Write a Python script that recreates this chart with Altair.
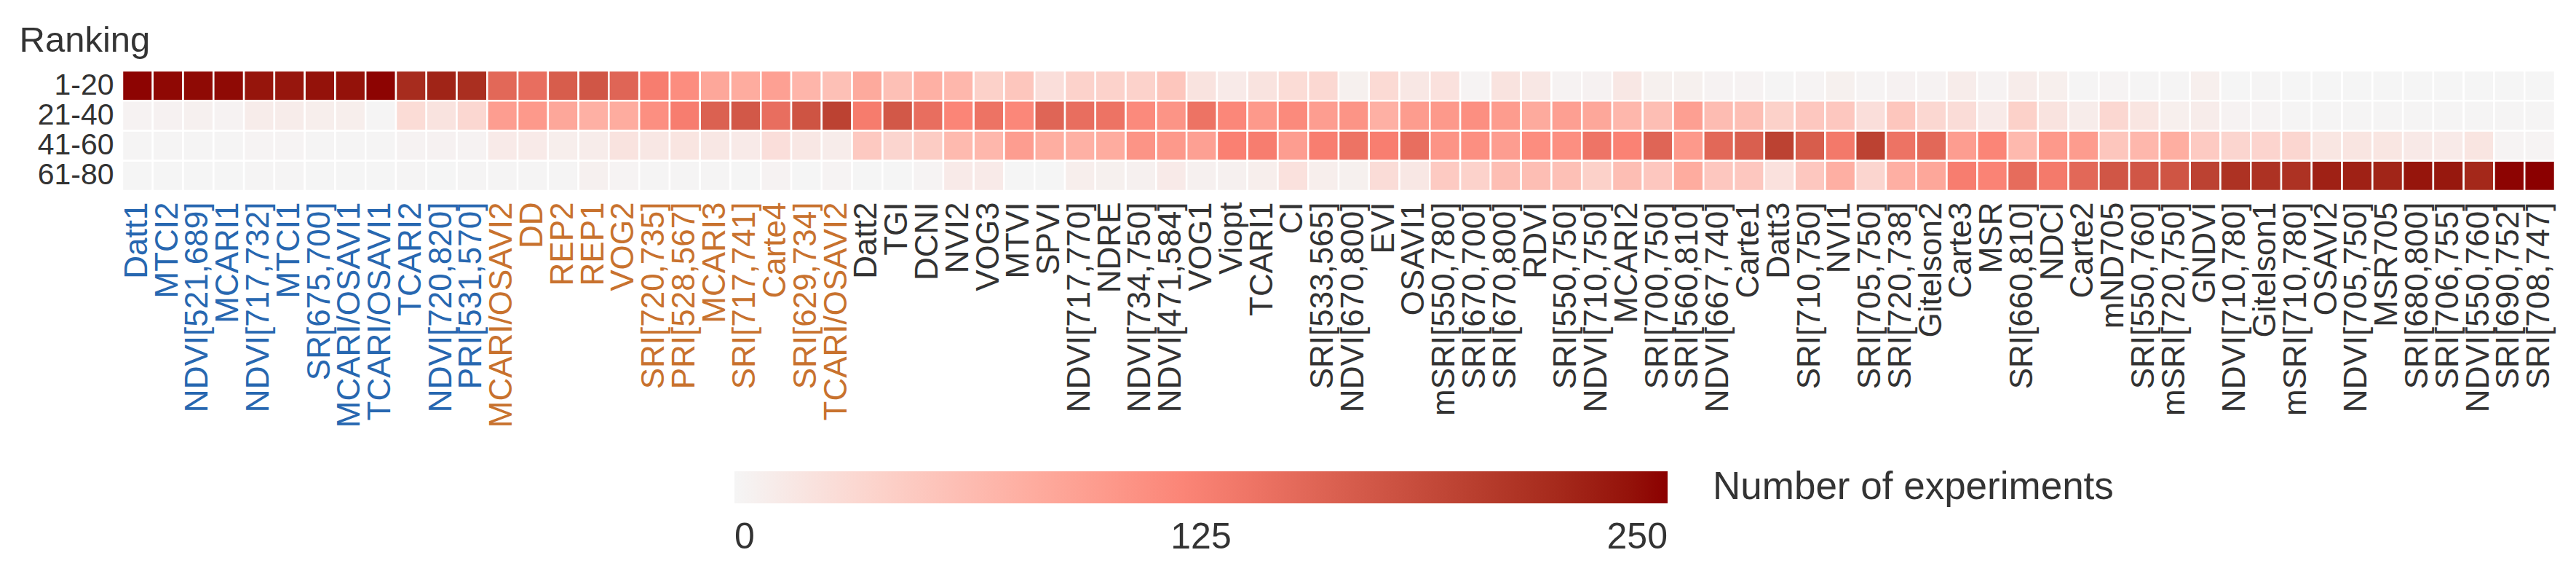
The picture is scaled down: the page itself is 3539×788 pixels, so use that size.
import json
import altair as alt
import pandas as pd

indices = [
    "Datt1", "MTCI2", "NDVI[521,689]", "MCARI1", "NDVI[717,732]", "MTCI1", "SR[675,700]",
    "MCARI/OSAVI1", "TCARI/OSAVI1", "TCARI2", "NDVI[720,820]", "PRI[531,570]",
    "MCARI/OSAVI2", "DD", "REP2", "REP1", "VOG2", "SRI[720,735]", "PRI[528,567]", "MCARI3",
    "SRI[717,741]", "Carte4", "SRI[629,734]", "TCARI/OSAVI2",
    "Datt2", "TGI", "DCNI", "NVI2", "VOG3", "MTVI", "SPVI", "NDVI[717,770]", "NDRE",
    "NDVI[734,750]", "NDVI[471,584]", "VOG1", "Viopt", "TCARI1", "CI", "SRI[533,565]",
    "NDVI[670,800]", "EVI", "OSAVI1", "mSRI[550,780]", "SRI[670,700]", "SRI[670,800]", "RDVI",
    "SRI[550,750]", "NDVI[710,750]", "MCARI2", "SRI[700,750]", "SRI[560,810]", "NDVI[667,740]",
    "Carte1", "Datt3", "SRI[710,750]", "NVI1", "SRI[705,750]", "SRI[720,738]", "Gitelson2",
    "Carte3", "MSR", "SRI[660,810]", "NDCI", "Carte2", "mND705", "SRI[550,760]", "mSRI[720,750]",
    "GNDVI", "NDVI[710,780]", "Gitelson1", "mSRI[710,780]", "OSAVI2", "NDVI[705,750]", "MSR705",
    "SRI[680,800]", "SRI[706,755]", "NDVI[550,760]", "SRI[690,752]", "SRI[708,747]",
]
blue_group = indices[0:12]
orange_group = indices[12:24]

ranks = ["1-20", "21-40", "41-60", "61-80"]

r1 = [248, 246, 245, 245, 238, 237, 240, 240, 248, 218, 226, 215,
      152, 145, 165, 172, 155, 128, 112, 85,
      80, 92, 70, 58, 82, 58, 75, 68, 40, 52,
      25, 38, 38, 38, 52, 20, 12, 20, 28, 32,
      6, 30, 15, 22, 2, 20, 15, 3, 4, 15,
      6, 6, 3, 3, 1, 2, 6, 2, 4, 3,
      10, 3, 10, 7, 1, 2, 1, 1, 7, 0,
      1, 0, 0, 0, 0, 0, 0, 0, 0, 0]
r2 = [3, 4, 5, 3, 10, 10, 8, 8, 1, 28, 20, 33,
      95, 100, 85, 75, 80, 110, 128, 160,
      170, 145, 175, 195, 130, 170, 145, 120, 140, 118,
      155, 145, 140, 115, 105, 140, 118, 100, 115, 95,
      105, 75, 97, 100, 110, 97, 82, 93, 85, 68,
      60, 93, 62, 60, 40, 50, 50, 25, 52, 33,
      27, 12, 40, 20, 10, 33, 18, 7, 10, 3,
      2, 1, 1, 1, 1, 1, 1, 1, 1, 1]
r3 = [1, 1, 1, 1, 2, 2, 1, 1, 1, 3, 4, 3,
      12, 12, 8, 10, 20, 15, 18, 15,
      12, 25, 15, 10, 48, 35, 45, 65, 68, 95,
      78, 75, 80, 105, 100, 92, 125, 128, 95, 127,
      140, 127, 145, 105, 110, 95, 112, 110, 138, 123,
      155, 100, 152, 162, 195, 165, 133, 195, 140, 152,
      95, 120, 66, 100, 97, 52, 68, 78, 47, 35,
      36, 34, 17, 18, 17, 13, 12, 18, 2, 2]
r4 = [0, 0, 0, 0, 1, 1, 0, 0, 0, 1, 0, 1,
      1, 1, 1, 5, 2, 1, 1, 1,
      0, 3, 0, 2, 0, 0, 2, 12, 12, 0,
      0, 8, 6, 5, 12, 5, 5, 8, 22, 8,
      6, 27, 15, 47, 38, 60, 60, 58, 40, 60,
      50, 80, 50, 50, 22, 50, 76, 35, 76, 85,
      128, 122, 148, 132, 152, 172, 172, 174, 195, 212,
      212, 212, 228, 228, 225, 238, 236, 222, 248, 250]

rows = []
for rank, vals in zip(ranks, [r1, r2, r3, r4]):
    for name, v in zip(indices, vals):
        rows.append({"index": name, "rank": rank, "count": v})
df = pd.DataFrame(rows)

FONT = "Liberation Sans"
BLUE = "#2767b0"
ORANGE = "#c8722e"
DARK = "#333333"

label_color = {
    "condition": [
        {"test": "indexof(%s, datum.value) >= 0" % json.dumps(blue_group), "value": BLUE},
        {"test": "indexof(%s, datum.value) >= 0" % json.dumps(orange_group), "value": ORANGE},
    ],
    "value": DARK,
}

chart = alt.Chart(df).mark_rect(stroke="white", strokeWidth=2.5).encode(
    x=alt.X(
        "index:N",
        sort=indices,
        scale=alt.Scale(paddingInner=0, paddingOuter=0),
        axis=alt.Axis(
            title=None, labelAngle=-90, labelFontSize=44, labelPadding=15,
            ticks=False, domain=False, labelColor=label_color, labelLimit=1000,
            labelFont=FONT,
        ),
    ),
    y=alt.Y(
        "rank:N",
        sort=ranks,
        scale=alt.Scale(paddingInner=0, paddingOuter=0),
        axis=alt.Axis(
            title="Ranking", titleAngle=0, titleAlign="left", titleBaseline="alphabetic",
            titleX=-142, titleY=-27, titleFontSize=49, titleFontWeight="normal",
            titleColor=DARK, titleFont=FONT,
            labelFontSize=41, labelPadding=12, ticks=False, domain=False,
            labelColor=DARK, labelFont=FONT,
        ),
    ),
    color=alt.Color(
        "count:Q",
        scale=alt.Scale(domain=[0, 125, 250], range=["#f5f5f5", "#fa8072", "#8b0000"],
                        interpolate="lab"),
        legend=alt.Legend(
            orient="none", legendX=841, legendY=550, direction="horizontal",
            gradientLength=1282, gradientThickness=44, gradientStrokeWidth=0,
            title="Number of experiments", titleOrient="right", titleFontSize=53,
            titleFontWeight="normal", titleColor=DARK, titleFont=FONT,
            titlePadding=62, titleBaseline="middle", titleLimit=2000,
            labelFontSize=50, labelColor=DARK, labelFont=FONT, labelAlign="center",
            labelOffset=22, values=[0, 125, 250], padding=0,
        ),
    ),
).properties(
    width=3342,
    height=165,
    autosize=alt.AutoSizeParams(type="none"),
    padding={"left": 160, "top": 89, "right": 21, "bottom": 510},
).configure_view(stroke=None).configure(background="white")

chart.save("out.html", embed_options={"renderer": "svg", "actions": False})
